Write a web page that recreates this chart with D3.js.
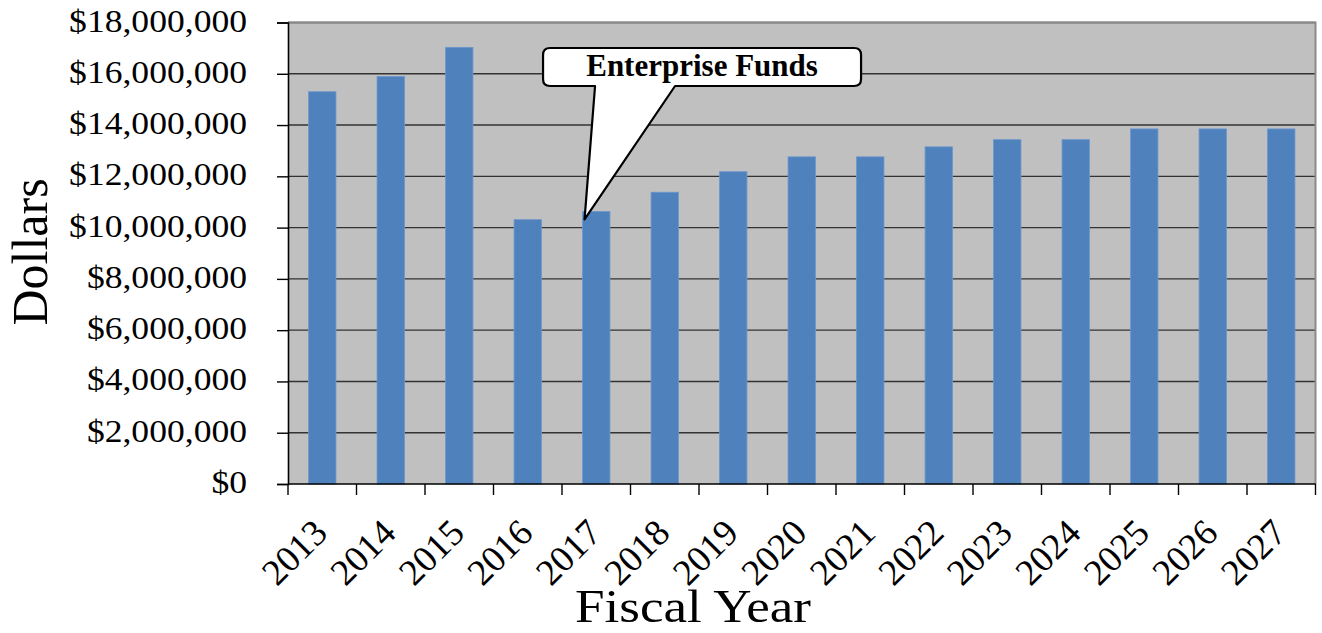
<!DOCTYPE html>
<html>
<head>
<meta charset="utf-8">
<script src="https://cdn.jsdelivr.net/npm/d3@7"></script>
<style>
  body { margin: 0; background: #fff; }
  svg { display: block; }
  text { font-family: "Liberation Serif", "Times New Roman", serif; fill: #000; }
</style>
</head>
<body>
<div id="chart"></div>
<script>
// values
var years = ["2013", "2014", "2015", "2016", "2017", "2018", "2019", "2020",
             "2021", "2022", "2023", "2024", "2025", "2026", "2027"];
var dollars = [15300000, 15890000, 17030000, 10310000, 10630000, 11380000, 12180000, 12760000,
               12760000, 13150000, 13430000, 13430000, 13850000, 13850000, 13850000];
var yTicks = [0, 2000000, 4000000, 6000000, 8000000, 10000000, 12000000, 14000000, 16000000, 18000000];
var calloutLabel = "Enterprise Funds";
var calloutYear = "2017";

var width = 1322, height = 633;
var margin = {top: 22.5, right: 6.5, bottom: 149, left: 288};
var plotW = width - margin.left - margin.right;
var plotH = height - margin.top - margin.bottom;
var stretch = 1.13;   // the source text is a bit wider than Times

var svg = d3.select("#chart").append("svg")
    .attr("width", width)
    .attr("height", height);

var x = d3.scaleBand()
    .domain(years)
    .range([0, plotW])
    .paddingInner(0.6)
    .paddingOuter(0.3);

var y = d3.scaleLinear()
    .domain([0, 18000000])
    .range([plotH, 0]);

var g = svg.append("g")
    .attr("transform", "translate(" + margin.left + "," + margin.top + ")");

// plot background
g.append("rect")
    .attr("width", plotW)
    .attr("height", plotH)
    .attr("fill", "#c0c0c0");

// gridlines
g.selectAll("line.grid")
    .data(yTicks.slice(1))
    .enter()
    .append("line")
    .attr("class", "grid")
    .attr("x1", 0)
    .attr("x2", plotW)
    .attr("y1", function (d) { return y(d); })
    .attr("y2", function (d) { return y(d); })
    .attr("stroke", "#333")
    .attr("stroke-width", 1.4);

// bars
g.selectAll("rect.bar")
    .data(dollars)
    .enter()
    .append("rect")
    .attr("class", "bar")
    .attr("x", function (d, i) { return x(years[i]); })
    .attr("y", function (d) { return y(d); })
    .attr("width", x.bandwidth())
    .attr("height", function (d) { return plotH - y(d); })
    .attr("fill", "#4f81bd")
    .attr("stroke", "#6c97cc")
    .attr("stroke-width", 0.8);

// frame on top and right
g.append("path")
    .attr("d", "M0,0H" + plotW + "V" + plotH)
    .attr("fill", "none")
    .attr("stroke", "#8a8a8a")
    .attr("stroke-width", 2);

// y axis
var fmt = d3.format("$,.0f");
var yAxis = g.append("g")
    .call(d3.axisLeft(y).tickValues(yTicks).tickSize(11).tickPadding(30).tickFormat(fmt));
yAxis.select(".domain").attr("stroke", "#000").attr("stroke-width", 1.6);
yAxis.selectAll(".tick line").attr("stroke", "#000").attr("stroke-width", 1.4);
yAxis.selectAll(".tick text")
    .attr("font-family", "Liberation Serif, serif")
    .attr("font-size", 31.5)
    .attr("x", 0)
    .attr("dy", "0.27em")
    .attr("transform", "translate(-41,0) scale(" + stretch + ",1)");

// x axis: ticks on band edges
var edges = years.map(function (d) { return x(d) - x.step() * x.paddingOuter(); });
edges.push(plotW);
var xAxis = g.append("g")
    .attr("transform", "translate(0," + plotH + ")");
xAxis.append("line")
    .attr("x1", 0).attr("x2", plotW)
    .attr("stroke", "#000").attr("stroke-width", 1.6);
xAxis.selectAll("line.tick")
    .data(edges)
    .enter()
    .append("line")
    .attr("class", "tick")
    .attr("x1", function (d) { return d; })
    .attr("x2", function (d) { return d; })
    .attr("y1", 0)
    .attr("y2", 11)
    .attr("stroke", "#000")
    .attr("stroke-width", 1.4);
xAxis.selectAll("text")
    .data(years)
    .enter()
    .append("text")
    .attr("text-anchor", "end")
    .attr("font-size", 37)
    .attr("transform", function (d) {
        return "translate(" + (x(d) + x.bandwidth() / 2 + 7) + ",51) rotate(-45)";
    })
    .text(function (d) { return d; });

// axis titles
svg.append("text")
    .attr("text-anchor", "middle")
    .attr("font-size", 50)
    .attr("transform", "translate(47,252) rotate(-90)")
    .text("Dollars");

svg.append("text")
    .attr("text-anchor", "middle")
    .attr("font-size", 47)
    .attr("transform", "translate(693,622) scale(" + stretch + ",1)")
    .text("Fiscal Year");

// callout pointing at the 2017 bar
var ci = years.indexOf(calloutYear);
var tipX = x(calloutYear) + 2;
var tipY = y(dollars[ci]) + 8;
var bx0 = tipX - 41.5, bx1 = tipX + 276.5, by0 = 48 - margin.top, by1 = 86 - margin.top, r = 7;
var p0 = tipX + 10.5, p1 = tipX + 90.5;
var callout = "M" + (bx0 + r) + "," + by0 +
    "H" + (bx1 - r) + "Q" + bx1 + "," + by0 + " " + bx1 + "," + (by0 + r) +
    "V" + (by1 - r) + "Q" + bx1 + "," + by1 + " " + (bx1 - r) + "," + by1 +
    "H" + p1 + "L" + tipX + "," + tipY + "L" + p0 + "," + by1 +
    "H" + (bx0 + r) + "Q" + bx0 + "," + by1 + " " + bx0 + "," + (by1 - r) +
    "V" + (by0 + r) + "Q" + bx0 + "," + by0 + " " + (bx0 + r) + "," + by0 + "Z";
g.append("path")
    .attr("d", callout)
    .attr("fill", "#fff")
    .attr("stroke", "#000")
    .attr("stroke-width", 2.2)
    .attr("stroke-linejoin", "round");
g.append("text")
    .attr("x", (bx0 + bx1) / 2)
    .attr("y", by1 - 10)
    .attr("text-anchor", "middle")
    .attr("font-weight", "bold")
    .attr("font-size", 31)
    .text(calloutLabel);
</script>
</body>
</html>
